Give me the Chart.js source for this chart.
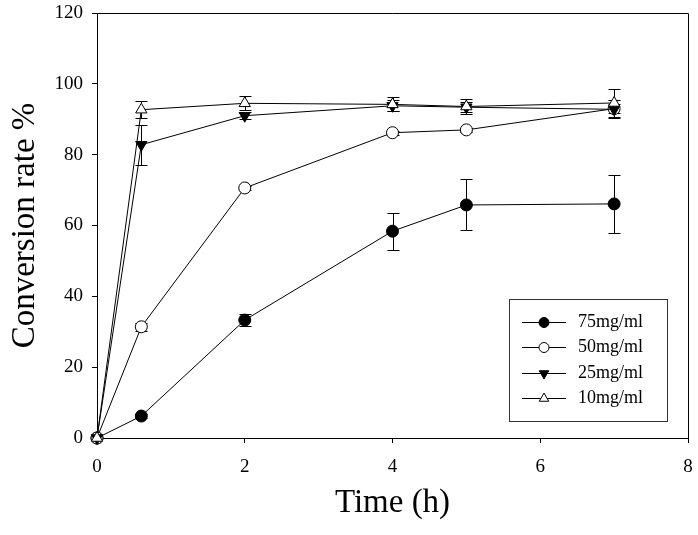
<!DOCTYPE html>
<html>
<head>
<meta charset="UTF-8">
<title>Conversion rate</title>
<script src="https://cdn.jsdelivr.net/npm/chart.js@4"></script>
<style>
html, body { margin: 0; padding: 0; background: #fff; }
#chart { display: block; }
</style>
</head>
<body>
<canvas id="chart" width="698" height="535"></canvas>
<script>
// Sampling times (h)
const times = [0, 0.6, 2, 4, 5, 7];

const seriesLabels = ['75mg/ml', '50mg/ml', '25mg/ml', '10mg/ml'];

// Conversion rate % per enzyme concentration
const rate75 = [0, 6.2, 33.3, 58.4, 65.8, 66.1];
const rate50 = [0, 31.4, 70.6, 86.2, 87.0, 93.0];
const rate25 = [0, 82.8, 91.0, 93.8, 93.4, 92.8];
const rate10 = [0, 92.7, 94.5, 94.2, 93.6, 94.6];

// Error bars (+/-)
const err75 = [0, 0.6, 1.8, 5.2, 7.2, 8.1];
const err50 = [0, 1.2, 0.6, 0.6, 0.6, 1.2];
const err25 = [0, 5.6, 1.0, 1.5, 1.4, 2.5];
const err10 = [0, 2.4, 2.0, 2.0, 2.0, 3.9];

const xTicks = [0, 2, 4, 6, 8];
const yTicks = [0, 20, 40, 60, 80, 100, 120];

const FONT = "'Liberation Serif', 'Times New Roman', serif";

const toPoints = (vals) => vals.map((v, i) => ({x: times[i], y: v}));

const makeSet = (label, vals, errs, style, rotation, fill, radius, order) => ({
    label,
    data: toPoints(vals),
    errors: errs,
    borderColor: '#000',
    borderWidth: 1,
    pointStyle: style,
    pointRotation: rotation,
    pointRadius: radius,
    pointHoverRadius: radius,
    pointBackgroundColor: fill,
    pointBorderColor: '#000',
    pointBorderWidth: 1,
    tension: 0,
    clip: false,
    order,
});

const datasets = [
    makeSet(seriesLabels[0], rate75, err75, 'circle', 0, '#000', 6, 4),
    makeSet(seriesLabels[1], rate50, err50, 'circle', 0, '#fff', 6, 3),
    makeSet(seriesLabels[2], rate25, err25, 'triangle', 180, '#000', 6.5, 2),
    makeSet(seriesLabels[3], rate10, err10, 'triangle', 0, '#fff', 6.5, 1),
];

// Draw a marker like Chart.js does (circle / triangle)
const drawMarker = (ctx, style, r, rot, fill, x, y) => {
    ctx.save();
    ctx.translate(x, y);
    ctx.rotate(rot * Math.PI / 180);
    ctx.beginPath();
    if (style === 'circle')
    {
        ctx.arc(0, 0, r, 0, Math.PI * 2);
    }
    else
    {
        ctx.moveTo(0, -r);
        ctx.lineTo(r * 0.866, r * 0.5);
        ctx.lineTo(-r * 0.866, r * 0.5);
        ctx.closePath();
    }
    ctx.fillStyle = fill;
    ctx.fill();
    ctx.strokeStyle = '#000';
    ctx.lineWidth = 1;
    ctx.stroke();
    ctx.restore();
};

const errorBars = {
    id: 'errorBars',
    beforeDatasetsDraw(chart) {
        const {ctx, scales: {x, y}} = chart;
        ctx.save();
        ctx.strokeStyle = '#000';
        ctx.lineWidth = 1;
        chart.data.datasets.forEach((ds) => {
            ds.data.forEach((p, i) => {
                const e = ds.errors[i];
                if (!e) return;
                const px  = Math.round(x.getPixelForValue(p.x)) + 0.5;
                const top = Math.round(y.getPixelForValue(p.y + e)) + 0.5;
                const bot = Math.round(y.getPixelForValue(p.y - e)) + 0.5;
                ctx.beginPath();
                ctx.moveTo(px, top);
                ctx.lineTo(px, bot);
                ctx.moveTo(px - 6, top);
                ctx.lineTo(px + 6, top);
                ctx.moveTo(px - 6, bot);
                ctx.lineTo(px + 6, bot);
                ctx.stroke();
            });
        });
        ctx.restore();
    }
};

// top and right edges of the frame
const frame = {
    id: 'frame',
    beforeDatasetsDraw(chart) {
        const {ctx, chartArea: a} = chart;
        ctx.save();
        ctx.strokeStyle = '#000';
        ctx.lineWidth = 1;
        ctx.beginPath();
        ctx.moveTo(a.left, Math.round(a.top) + 0.5);
        ctx.lineTo(Math.round(a.right) + 0.5, Math.round(a.top) + 0.5);
        ctx.lineTo(Math.round(a.right) + 0.5, a.bottom);
        ctx.stroke();
        ctx.restore();
    }
};

// boxed legend inside the plot, bottom right
const boxLegend = {
    id: 'boxLegend',
    afterDraw(chart) {
        const {ctx, chartArea: a} = chart;
        const left = a.right - 179, top = a.bottom - 139, w = 158, h = 122;
        ctx.save();
        ctx.strokeStyle = '#333';
        ctx.lineWidth = 1;
        ctx.strokeRect(Math.round(left) + 0.5, Math.round(top) + 0.5, w, h);
        ctx.font = '18px ' + FONT;
        ctx.fillStyle = '#000';
        ctx.textBaseline = 'middle';
        chart.data.datasets.forEach((ds, i) => {
            const cy = Math.round(top + 23 + i * 25.3) + 0.5;
            ctx.beginPath();
            ctx.moveTo(left + 13, cy);
            ctx.lineTo(left + 57, cy);
            ctx.strokeStyle = '#000';
            ctx.stroke();
            drawMarker(ctx, ds.pointStyle, ds.pointStyle === 'circle' ? 5 : 5.5, ds.pointRotation, ds.pointBackgroundColor, left + 35, cy);
            ctx.fillStyle = '#000';
            ctx.fillText(ds.label, left + 69, cy);
        });
        ctx.restore();
    }
};

new Chart(document.getElementById('chart'), {
    type: 'line',
    data: {datasets},
    options: {
        responsive: false,
        animation: false,
        devicePixelRatio: 1,
        layout: {padding: {top: 13, right: 10, left: 0, bottom: 0}},
        plugins: {legend: {display: false}, tooltip: {enabled: false}},
        events: [],
        scales: {
            x: {
                type: 'linear',
                min: 0,
                max: 8,
                afterBuildTicks: (scale) => { scale.ticks = xTicks.map((v) => ({value: v})); },
                afterFit: (scale) => {
                    scale.height       = 97;
                    scale.paddingLeft  = 0;
                    scale.paddingRight = 0;
                },
                ticks: {color: '#000', padding: 13, font: {family: FONT, size: 19}},
                grid: {drawOnChartArea: false, drawTicks: true, tickLength: 5, color: '#000'},
                border: {display: true, color: '#000', width: 1},
                title: {display: true, text: 'Time (h)', color: '#000', font: {family: FONT, size: 33}, padding: {top: 0, bottom: 12}},
            },
            y: {
                type: 'linear',
                min: 0,
                max: 120,
                afterBuildTicks: (scale) => { scale.ticks = yTicks.map((v) => ({value: v})); },
                afterFit: (scale) => {
                    scale.width         = 97;
                    scale.paddingTop    = 0;
                    scale.paddingBottom = 0;
                },
                ticks: {color: '#000', padding: 9, font: {family: FONT, size: 19}},
                grid: {drawOnChartArea: false, drawTicks: true, tickLength: 5, color: '#000'},
                border: {display: true, color: '#000', width: 1},
                title: {display: true, text: 'Conversion rate %', color: '#000', font: {family: FONT, size: 33}, padding: {top: 6, bottom: 0}},
            },
        },
    },
    plugins: [errorBars, frame, boxLegend],
});
</script>
</body>
</html>
